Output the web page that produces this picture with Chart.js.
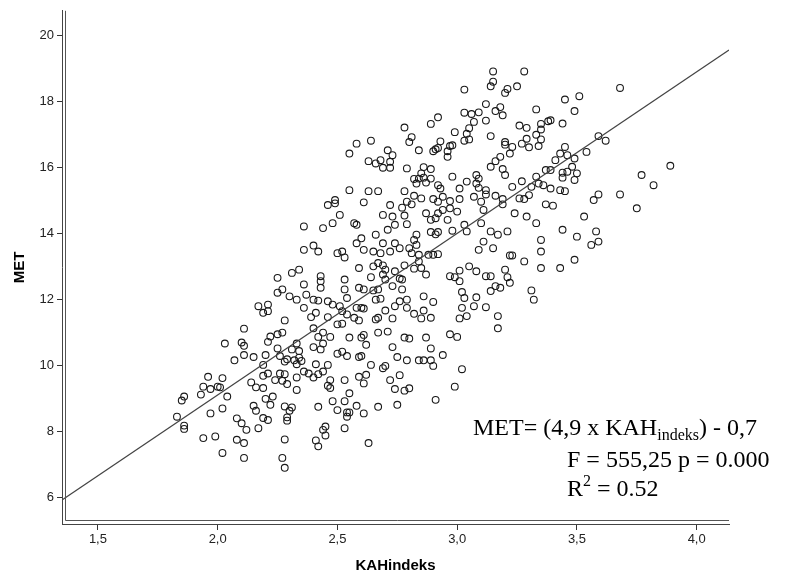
<!DOCTYPE html>
<html>
<head>
<meta charset="utf-8">
<script src="https://cdn.jsdelivr.net/npm/chart.js@4/dist/chart.umd.min.js"></script>
<style>
  html, body { margin: 0; padding: 0; background: #fff; }
  #wrap { width: 795px; height: 578px; position: relative; }
</style>
</head>
<body>
<div id="wrap"><canvas id="myChart"></canvas></div>
<script>
// KAHindeks (x) et MET (y), lus point par point sur la figure
const kah = [
  3.15,3.28,3.15,3.14,3.25,3.03,3.21,3.20,3.12,3.18,3.16,3.19,3.03,3.06,3.09,3.33,2.92,2.89,3.07,3.12,
  3.38,2.78,2.99,3.26,3.29,3.05,3.04,3.14,3.35,3.35,3.33,3.35,2.81,2.80,2.93,3.05,3.03,3.20,3.20,3.29,
  3.27,3.30,3.34,2.64,2.58,2.55,2.84,2.71,2.73,2.91,2.92,2.97,2.98,2.96,2.96,2.90,3.23,3.22,3.18,3.16,
  3.14,3.19,3.20,2.63,2.66,2.68,2.69,2.72,2.72,2.79,2.86,2.89,2.85,2.82,2.84,2.86,2.89,2.83,2.87,2.98,
  3.04,3.08,3.09,3.09,3.08,2.92,2.93,3.01,3.12,3.23,3.27,3.31,3.33,3.34,3.36,3.37,2.55,2.63,2.67,2.78,
  3.68,3.45,3.51,3.49,3.39,3.44,3.59,3.62,3.45,3.43,3.46,3.41,3.49,3.54,3.39,3.44,3.48,3.46,3.50,3.44,
  3.49,3.77,3.82,3.89,3.39,3.43,3.45,
  3.59,3.68,3.57,3.40,3.75,3.53,3.44,3.50,3.58,3.59,3.56,3.49,3.43,
  2.61,2.82,2.85,2.79,2.81,2.90,2.92,2.94,2.97,3.01,3.07,3.12,3.16,3.19,3.19,3.26,3.28,3.30,3.37,2.72,
  2.77,2.69,2.73,2.78,2.74,2.79,2.71,2.87,2.92,2.89,2.91,2.96,2.94,2.97,3.00,3.11,3.10,3.03,2.98,3.04,
  2.92,2.89,2.91,3.10,3.14,3.17,3.21,3.24,3.29,3.33,3.35,3.35,3.35,3.22,3.23,3.28,2.57,2.58,2.66,2.60,
  2.58,2.61,2.65,2.68,2.69,2.72,2.74,2.76,2.80,2.82,2.83,2.83,2.81,2.84,2.88,2.90,2.92,3.11,3.15,3.09,
  2.84,2.82,2.85,2.87,2.78,2.74,2.70,2.69,2.69,2.65,2.67,2.59,2.64,2.77,2.76,2.70,2.73,2.77,2.67,2.61,
  2.59,2.65,2.66,2.68,2.60,2.61,2.58,2.57,2.59,2.67,2.66,2.73,2.70,2.74,2.76,2.79,2.79,2.86,2.82,2.86,
  2.89,2.85,2.90,2.97,2.99,3.01,3.01,3.02,3.03,3.05,3.08,3.12,3.14,3.14,3.16,3.18,3.20,3.21,3.22,3.31,
  3.32,3.08,3.07,3.02,3.01,3.04,3.12,3.17,3.17,2.97,3.00,2.87,2.78,2.80,2.71,2.67,2.61,2.60,2.55,
  2.49,2.46,2.49,2.51,2.48,2.36,2.44,2.36,2.40,2.42,2.50,2.52,2.53,2.25,2.31,2.34,2.43,2.43,2.43,2.36,
  2.53,2.25,2.27,2.30,2.33,2.37,2.40,2.42,2.46,2.48,2.51,2.53,2.54,2.17,2.21,2.19,2.21,2.36,2.41,2.39,
  2.46,2.52,2.54,2.28,2.50,2.52,2.11,2.25,2.27,2.22,2.40,2.44,2.47,2.42,
  2.03,2.10,2.11,2.21,2.25,2.33,2.31,2.34,2.40,2.44,2.43,2.50,2.52,2.54,2.07,2.11,2.15,2.20,2.19,2.26,
  2.28,2.29,2.32,2.33,2.35,2.34,2.41,2.46,2.44,1.96,2.02,1.94,1.97,2.00,2.01,1.93,2.04,1.86,1.85,2.14,
  2.16,2.19,2.19,2.21,2.24,2.26,2.28,2.27,2.29,2.33,2.33,2.36,2.38,2.40,2.42,2.47,2.46,2.47,2.53,2.55,
  2.48,2.53,2.42,1.83,1.86,1.86,1.97,2.02,2.08,2.10,2.12,2.15,2.16,2.19,2.21,2.20,2.23,2.22,2.17,2.28,
  2.31,2.30,2.29,2.29,2.50,2.54,2.54,2.45,2.44,2.45,2.53,1.94,1.99,2.08,2.11,2.02,2.11,2.28,2.41,2.42,
  2.27,2.28,
  2.59,2.60,2.62,2.64,2.69,2.70,2.73,2.75,2.79,2.84,2.86,2.89,2.89,2.90,2.94,3.02,2.59,2.62,2.61,2.72,
  2.76,2.74,2.78,2.80,2.58,2.55,2.61,2.67,2.75,2.91,2.99,2.63
];
const met = [
  18.91,18.91,18.60,18.46,18.46,18.36,18.38,18.26,17.92,17.83,17.71,17.58,17.66,17.62,17.67,17.76,17.52,17.32,17.38,17.42,
  17.40,17.21,17.07,17.27,17.20,17.19,17.02,16.95,17.32,17.15,16.99,16.85,16.92,16.77,16.79,16.85,16.81,16.77,16.69,16.87,
  16.72,16.61,16.65,16.81,16.72,16.42,16.52,16.52,16.37,16.55,16.59,16.65,16.67,16.49,16.32,16.49,16.62,16.42,16.32,16.19,
  16.02,15.95,15.77,16.19,16.12,16.22,15.99,16.17,15.99,15.97,16.01,15.95,15.82,15.65,15.66,15.69,15.66,15.51,15.54,15.72,
  15.57,15.77,15.66,15.38,15.51,15.46,15.36,15.36,15.31,15.41,15.58,15.41,15.72,15.51,15.46,15.92,15.31,15.28,15.28,15.28,
  18.41,18.06,18.16,17.71,17.43,17.33,16.95,16.81,16.62,16.42,16.37,16.22,16.27,16.47,15.92,15.84,16.02,15.87,15.82,15.69,
  15.62,15.77,15.46,16.05,15.36,15.31,15.28,
  15.18,15.18,15.01,14.84,14.76,14.51,14.11,13.90,14.06,13.75,13.65,13.20,12.95,
  14.94,15.14,15.06,14.96,14.88,15.04,14.96,15.11,14.98,15.04,15.11,15.18,15.14,15.04,14.88,15.06,15.04,15.16,14.88,14.86,
  14.78,14.56,14.51,14.54,14.26,14.28,14.11,14.61,14.61,14.41,14.46,14.41,14.71,14.76,14.66,14.71,14.96,14.26,14.08,14.06,
  14.04,14.04,13.97,14.31,14.06,13.96,14.06,14.61,14.51,14.31,13.80,13.45,12.95,13.33,13.33,13.15,14.31,14.26,13.96,13.85,
  13.70,13.50,13.45,13.40,13.70,13.45,13.70,13.55,13.55,13.80,13.96,13.65,13.40,13.35,13.35,13.35,13.37,13.75,13.55,13.50,
  13.15,12.93,12.95,12.75,13.03,12.85,12.90,12.75,13.03,13.00,13.10,12.95,12.67,12.60,12.63,12.60,12.40,12.30,12.30,12.30,
  12.35,12.27,11.99,12.02,11.74,11.72,11.74,11.44,11.36,11.44,11.39,11.42,11.66,11.79,11.94,11.99,11.74,12.09,11.56,11.66,
  11.44,11.42,11.92,12.70,12.67,12.87,12.55,12.22,12.04,13.00,12.85,12.70,12.70,12.25,12.40,12.35,12.90,12.67,12.50,12.27,
  11.99,12.06,11.79,11.74,11.42,11.49,11.76,11.49,11.12,10.94,10.86,10.84,10.84,10.81,11.02,10.99,10.92,10.84,10.84,
  15.01,14.86,14.91,14.56,14.31,14.21,14.16,13.50,13.63,13.45,13.40,13.45,13.27,12.65,12.80,12.90,12.70,12.55,12.35,12.45,
  12.60,12.20,12.30,12.09,11.99,12.14,11.99,11.96,11.94,11.84,11.79,12.30,12.04,11.79,11.84,11.59,11.64,11.74,11.59,11.46,
  11.46,11.64,11.54,11.36,11.24,11.26,11.11,10.94,10.99,10.87,11.12,10.99,10.86,10.86,
  10.66,10.69,10.59,10.71,10.51,10.66,10.48,10.43,10.55,10.66,10.48,10.35,10.41,10.28,10.15,10.31,10.25,10.31,10.01,10.28,
  10.11,10.18,10.15,10.03,10.13,10.23,10.03,10.01,9.81,9.65,9.61,9.35,9.28,9.35,9.33,9.11,9.05,9.05,8.93,9.48,
  9.33,9.31,9.68,9.75,9.55,9.75,9.73,9.53,9.43,9.63,9.25,9.81,9.75,9.63,9.73,9.55,9.38,9.31,9.55,9.15,
  8.91,8.91,8.74,8.44,8.17,8.07,8.54,8.69,8.39,8.24,8.04,8.77,8.62,8.40,8.34,8.98,9.05,8.80,8.09,8.75,
  8.72,8.62,8.42,8.32,8.64,8.57,8.44,8.14,8.04,7.87,8.09,7.79,7.84,7.74,7.64,7.34,7.19,7.75,7.72,7.54,
  7.19,6.89,
  10.25,10.28,10.62,10.01,9.91,9.98,10.55,10.25,10.15,10.15,10.15,10.15,10.51,9.98,10.31,9.88,9.65,9.71,9.45,9.55,
  9.70,9.28,9.23,9.30,8.77,8.57,8.54,8.74,8.80,8.95,9.35,7.64
];

const yTicks = [6, 8, 10, 12, 14, 16, 18, 20];
const xTicks = [1.5, 2.0, 2.5, 3.0, 3.5, 4.0];
const xTickLabels = ['1,5', '2,0', '2,5', '3,0', '3,5', '4,0'];

// droite de régression : MET = 4,9 x KAH - 0,7
const pente = 4.9;
const constante = -0.7;
const xMin = 1.35, xMax = 4.135;
const yMin = 5.185, yMax = 20.75;

const equation = ['MET= (4,9 x KAH', 'indeks', ') - 0,7'];
const statF = 'F = 555,25 p = 0.000';
const statR2 = ['R', '2', ' = 0.52'];

Chart.defaults.font.family = '"Liberation Sans", Arial, sans-serif';

const points = kah.map((x, i) => ({ x: x, y: met[i] }));
const droite = [xMin, xMax].map(x => ({ x: x, y: pente * x + constante }));

// double trait des axes (style SPSS), titres et texte de l'équation
const decor = {
  id: 'decor',
  afterDraw(chart) {
    const ctx = chart.ctx;
    const a = chart.chartArea;
    ctx.save();
    ctx.strokeStyle = '#555';
    ctx.lineWidth = 1;
    ctx.beginPath();
    ctx.moveTo(a.left + 3.5, a.top);
    ctx.lineTo(a.left + 3.5, a.bottom - 3.5);
    ctx.lineTo(a.right, a.bottom - 3.5);
    ctx.stroke();

    ctx.fillStyle = '#000';
    ctx.font = 'bold 15px "Liberation Sans", Arial, sans-serif';
    ctx.textAlign = 'center';
    ctx.textBaseline = 'middle';
    ctx.fillText('KAHindeks', (a.left + a.right) / 2, 566);
    ctx.translate(20, (a.top + a.bottom) / 2);
    ctx.rotate(-Math.PI / 2);
    ctx.fillText('MET', 0, 0);
    ctx.restore();

    ctx.save();
    ctx.fillStyle = '#000';
    ctx.textAlign = 'left';
    ctx.textBaseline = 'alphabetic';
    const big = '24px "Liberation Serif", "Times New Roman", serif';
    const small = '16px "Liberation Serif", "Times New Roman", serif';
    let x = 473;
    ctx.font = big;
    ctx.fillText(equation[0], x, 435);
    x += ctx.measureText(equation[0]).width;
    ctx.font = small;
    ctx.fillText(equation[1], x, 440);
    x += ctx.measureText(equation[1]).width;
    ctx.font = big;
    ctx.fillText(equation[2], x, 435);

    ctx.fillText(statF, 567, 467);

    x = 567;
    ctx.fillText(statR2[0], x, 496);
    x += ctx.measureText(statR2[0]).width;
    ctx.font = small;
    ctx.fillText(statR2[1], x, 486);
    x += ctx.measureText(statR2[1]).width;
    ctx.font = big;
    ctx.fillText(statR2[2], x, 496);
    ctx.restore();
  }
};

const config = {
  type: 'scatter',
  data: {
    datasets: [
      {
        data: points,
        pointStyle: 'circle',
        pointRadius: 3.4,
        pointBorderWidth: 1.1,
        pointBorderColor: '#1a1a1a',
        pointBackgroundColor: 'rgba(0,0,0,0)',
        order: 2
      },
      {
        type: 'line',
        data: droite,
        borderColor: '#444',
        borderWidth: 1.2,
        pointRadius: 0,
        fill: false,
        order: 1
      }
    ]
  },
  options: {
    responsive: true,
    maintainAspectRatio: false,
    animation: false,
    layout: { padding: { top: 8, right: 66, left: 0, bottom: 0 } },
    plugins: {
      legend: { display: false },
      tooltip: { enabled: false }
    },
    scales: {
      x: {
        type: 'linear',
        min: xMin,
        max: xMax,
        afterFit: s => { s.height = 54; },
        afterBuildTicks: s => { s.ticks = xTicks.map(v => ({ value: v })); },
        grid: { drawOnChartArea: false, drawTicks: true, tickLength: 6, color: '#333' },
        border: { display: true, color: '#444', width: 1 },
        ticks: {
          color: '#222',
          padding: 2,
          maxRotation: 0,
          autoSkip: false,
          font: { size: 13 },
          callback: (v, i) => xTickLabels[i]
        }
      },
      y: {
        type: 'linear',
        min: yMin,
        max: yMax,
        afterFit: s => { s.width = 62; },
        afterBuildTicks: s => { s.ticks = yTicks.map(v => ({ value: v })); },
        grid: { drawOnChartArea: false, drawTicks: true, tickLength: 5, color: '#333' },
        border: { display: true, color: '#444', width: 1 },
        ticks: {
          color: '#222',
          padding: 3,
          font: { size: 13 },
          callback: v => String(v)
        }
      }
    }
  },
  plugins: [decor]
};

const myChart = new Chart(document.getElementById('myChart'), config);
</script>
</body>
</html>
